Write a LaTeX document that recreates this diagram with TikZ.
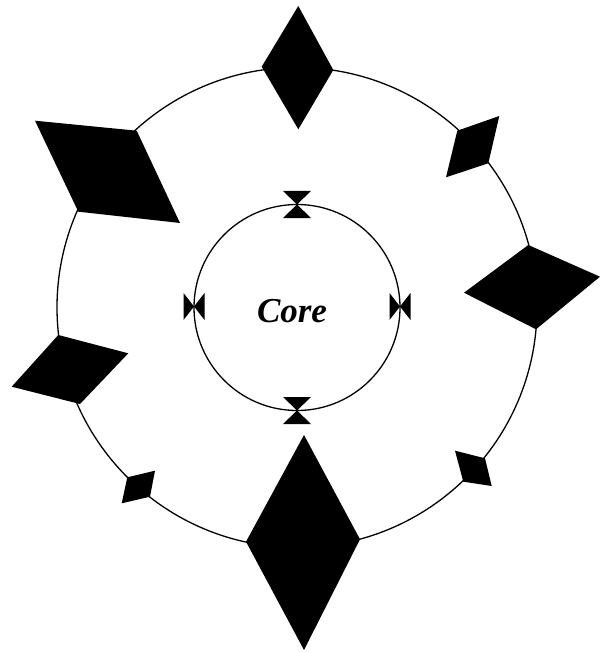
\documentclass[tikz,border=0pt]{standalone}
\usepackage{fontspec}
\setmainfont{Liberation Serif}
\begin{document}
\begin{tikzpicture}[x=1pt,y=-1pt,
  gem/.style={fill=black},
  ring/.style={draw=black,line width=1.3pt},
  label/.style={font=\bfseries\itshape\fontsize{35}{35}\selectfont, inner sep=0pt}]
\useasboundingbox (0,0) rectangle (601,652);
\coordinate (O) at (297,307.5);
% rings
\draw[ring] (O) circle (240pt);
\draw[ring] (O) circle (103pt);
% outer gems
\fill[gem] (298.3,6) -- (333.3,70) -- (298.3,129.3) -- (261.7,66.7) -- cycle;
\fill[gem] (499.3,116) -- (488.3,163.3) -- (446,177.3) -- (457.3,130.7) -- cycle;
\fill[gem] (528.3,245) -- (600,276.7) -- (536,329.3) -- (464,292.7) -- cycle;
\fill[gem] (455,450.7) -- (485,458.3) -- (491.7,486) -- (463.3,481.7) -- cycle;
\fill[gem] (304,435) -- (360,539.3) -- (304,650) -- (246,541.7) -- cycle;
\fill[gem] (155,470.7) -- (150,496.7) -- (121.7,503.3) -- (127.3,477.3) -- cycle;
\fill[gem] (58.3,335) -- (128.3,353.3) -- (80,404) -- (11.7,386.7) -- cycle;
\fill[gem] (35,120.7) -- (136.7,130.7) -- (180,223) -- (78.3,211.7) -- cycle;
% bowties on the core ring
\fill[gem] (283,191) -- (311,191) -- (297,204.5) -- cycle;
\fill[gem] (283,218) -- (311,218) -- (297,204.5) -- cycle;
\fill[gem] (283,397) -- (311,397) -- (297,410.5) -- cycle;
\fill[gem] (283,424) -- (311,424) -- (297,410.5) -- cycle;
\fill[gem] (183.5,293) -- (183.5,320) -- (194,306.5) -- cycle;
\fill[gem] (204.5,293) -- (204.5,320) -- (194,306.5) -- cycle;
\fill[gem] (389.5,293) -- (389.5,320) -- (400,306.5) -- cycle;
\fill[gem] (410.5,293) -- (410.5,320) -- (400,306.5) -- cycle;
\node[label] (core) at (292,311) {Core};
\end{tikzpicture}
\end{document}
